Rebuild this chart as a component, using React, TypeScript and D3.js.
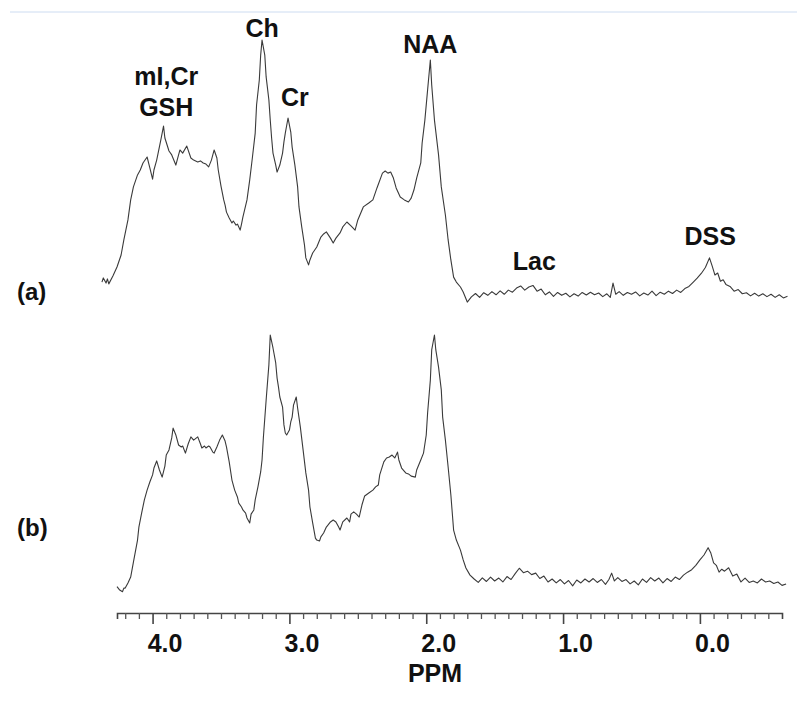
import { useEffect, useRef } from "react";
import * as d3 from "d3";

// spectrum (a): [ppm, relative intensity]
const specA: [number, number][] = [
  [4.37, 6.9], [4.36, 8.5], [4.34, 6.5], [4.33, 8.1], [4.32, 6.2], [4.29, 9.2], [4.26, 12.7],
  [4.23, 17.3], [4.21, 23.1], [4.18, 30.8], [4.16, 38.5], [4.14, 43.5], [4.11, 48.1], [4.09, 50],
  [4.07, 52.7], [4.04, 55], [4.02, 50.8], [4.0, 46.5], [3.99, 50], [3.97, 53.8], [3.94, 61.5],
  [3.92, 66.9], [3.91, 62.3], [3.88, 57.3], [3.86, 55.8], [3.83, 51.9], [3.81, 55.8], [3.8, 57.7],
  [3.78, 56.5], [3.75, 59.2], [3.72, 54.6], [3.7, 53.8], [3.67, 53.1], [3.65, 53.5], [3.63, 52.7],
  [3.61, 52.3], [3.59, 51.2], [3.57, 53.8], [3.55, 57.7], [3.53, 54.6], [3.52, 50], [3.5, 43.8],
  [3.48, 38.5], [3.47, 36.5], [3.46, 33.8], [3.44, 31.5], [3.42, 29.6], [3.41, 30.4], [3.39, 28.8],
  [3.38, 29.2], [3.36, 26.9], [3.35, 29.2], [3.34, 31.9], [3.31, 38.5], [3.29, 46.2], [3.27, 55],
  [3.25, 64.2], [3.24, 75], [3.22, 84.6], [3.21, 94.2], [3.2, 100], [3.18, 94.2], [3.17, 85.8],
  [3.15, 76.9], [3.14, 69.2], [3.13, 62.3], [3.12, 56.5], [3.1, 51.9], [3.09, 49.2], [3.07, 51.9],
  [3.05, 56.5], [3.04, 60.8], [3.03, 64.2], [3.01, 70], [2.99, 64.6], [2.98, 58.8], [2.96, 51.9],
  [2.94, 43.5], [2.93, 35.8], [2.91, 28.1], [2.89, 21.2], [2.88, 16.2], [2.86, 13.5], [2.85, 15.4],
  [2.83, 18.1], [2.8, 20.4], [2.77, 24.2], [2.75, 25.4], [2.73, 26.2], [2.7, 23.8], [2.68, 21.9],
  [2.66, 23.8], [2.63, 25.8], [2.61, 28.1], [2.58, 30], [2.55, 28.5], [2.52, 26.9], [2.5, 30.8],
  [2.46, 35.8], [2.42, 37.3], [2.39, 38.5], [2.36, 43.1], [2.32, 48.8], [2.3, 49.6], [2.28, 48.8],
  [2.26, 49.2], [2.24, 46.9], [2.22, 43.1], [2.19, 39.6], [2.16, 38.5], [2.13, 37.7], [2.11, 39.2],
  [2.09, 42.3], [2.07, 46.9], [2.04, 52.7], [2.03, 60.4], [2.01, 69.2], [1.99, 80.8], [1.97, 92.3],
  [1.96, 82.7], [1.94, 69.2], [1.91, 55.8], [1.89, 43.5], [1.86, 32.7], [1.84, 23.1], [1.82, 15.4],
  [1.8, 8.8], [1.78, 6.9], [1.75, 5], [1.73, 3.1], [1.7, -0.8],
  [1.67, 1.2], [1.64, 2.5], [1.61, 1.0], [1.58, 2.8], [1.55, 1.8], [1.52, 3.2], [1.49, 2.0],
  [1.46, 3.5], [1.43, 2.2], [1.4, 3.8], [1.37, 3.0], [1.34, 4.6], [1.31, 5.4], [1.28, 3.8],
  [1.25, 5.0], [1.22, 5.6], [1.19, 3.4], [1.16, 4.2], [1.13, 2.0], [1.1, 3.1], [1.07, 1.4],
  [1.04, 2.9], [1.01, 1.8], [0.98, 2.6], [0.95, 1.2], [0.92, 2.4], [0.89, 1.5], [0.86, 2.9],
  [0.83, 1.9], [0.8, 3.0], [0.77, 2.0], [0.74, 2.7], [0.71, 1.3], [0.68, 2.4], [0.655, 1.0],
  [0.635, 6.5], [0.615, 2.2], [0.59, 3.2], [0.56, 1.8], [0.53, 2.9], [0.5, 2.2], [0.47, 3.1],
  [0.44, 1.6], [0.41, 2.7], [0.38, 1.9], [0.35, 3.4], [0.32, 1.7], [0.29, 3.0], [0.26, 2.2],
  [0.23, 3.4], [0.2, 2.5], [0.17, 3.8], [0.14, 2.9], [0.11, 4.4], [0.08, 5.2], [0.05, 6.8],
  [0.02, 8.4], [-0.01, 10.2], [-0.04, 12.5], [-0.07, 16.2], [-0.09, 13.0], [-0.11, 9.6],
  [-0.13, 10.4], [-0.15, 7.2], [-0.17, 7.8], [-0.19, 6.0], [-0.22, 5.2], [-0.25, 3.4], [-0.28, 4.0],
  [-0.31, 2.4], [-0.34, 2.8], [-0.37, 1.6], [-0.4, 2.6], [-0.43, 1.5], [-0.46, 2.4], [-0.49, 1.3],
  [-0.52, 2.2], [-0.55, 1.0], [-0.58, 2.0], [-0.61, 0.8], [-0.64, 1.4],
];

// spectrum (b): [ppm, relative intensity]
const specB: [number, number][] = [
  [4.26, -2.7], [4.24, -4.1], [4.22, -4.8], [4.21, -3.3], [4.2, -3.3], [4.18, -1.2], [4.16, 1.2],
  [4.14, 7.3], [4.11, 16.3], [4.1, 21.6], [4.08, 27.3], [4.06, 32.7], [4.04, 36.7], [4.02, 40],
  [4.0, 42.9], [3.99, 45.7], [3.97, 48.6], [3.95, 44.9], [3.93, 42], [3.91, 46.5], [3.9, 51],
  [3.88, 53.1], [3.86, 58], [3.85, 62], [3.83, 59.2], [3.81, 55.1], [3.79, 54.3], [3.78, 54.7],
  [3.76, 51.8], [3.74, 55.5], [3.72, 58.4], [3.7, 57.1], [3.67, 58.4], [3.65, 55.5], [3.64, 53.9],
  [3.62, 54.7], [3.61, 53.9], [3.59, 54.7], [3.58, 54.3], [3.56, 52.2], [3.55, 51.8], [3.53, 54.3],
  [3.51, 57.1], [3.49, 59.2], [3.47, 56.7], [3.46, 54.3], [3.44, 48.2], [3.42, 40.8], [3.4, 36.7],
  [3.38, 33.9], [3.37, 31.4], [3.35, 29.8], [3.34, 28.6], [3.32, 27.3], [3.31, 25.3], [3.29, 23.3],
  [3.28, 26.9], [3.26, 28.6], [3.25, 32.7], [3.23, 38], [3.21, 44.1], [3.2, 49], [3.19, 58.4],
  [3.17, 73.5], [3.15, 87.8], [3.14, 100], [3.12, 94.7], [3.1, 88.6], [3.09, 82.4], [3.08, 78.8],
  [3.07, 74.7], [3.05, 70.6], [3.04, 63.3], [3.03, 60], [3.02, 59.2], [3.0, 61.2], [2.99, 64.5],
  [2.98, 66.5], [2.97, 71.4], [2.95, 74.7], [2.94, 70.2], [2.92, 62.4], [2.9, 53.1], [2.88, 43.7],
  [2.86, 36.7], [2.85, 29.8], [2.83, 23.3], [2.81, 17.1], [2.8, 16.3], [2.78, 15.9], [2.77, 17.6],
  [2.75, 19.2], [2.73, 21.6], [2.7, 23.7], [2.68, 24.5], [2.66, 23.7], [2.64, 21.6], [2.63, 20.4],
  [2.61, 23.7], [2.58, 25.3], [2.56, 23.7], [2.55, 26.9], [2.53, 27.8], [2.51, 26.9], [2.49, 25.7],
  [2.47, 30.6], [2.45, 34.3], [2.42, 35.5], [2.39, 36.7], [2.37, 38], [2.35, 38.8], [2.34, 42.9],
  [2.31, 48.2], [2.29, 49.8], [2.27, 50.2], [2.25, 51], [2.23, 49.8], [2.21, 52.2], [2.2, 49],
  [2.18, 45.7], [2.15, 43.7], [2.13, 43.3], [2.11, 42.4], [2.08, 42], [2.07, 44.9], [2.04, 49],
  [2.02, 51.8], [2.0, 59.2], [1.99, 68.2], [1.97, 81.6], [1.96, 93.9], [1.94, 100], [1.93, 93.9],
  [1.91, 86.9], [1.89, 77.6], [1.88, 66.5], [1.86, 57.1], [1.84, 46.1], [1.82, 34.7], [1.8, 20.4],
  [1.78, 16.3], [1.75, 12.2], [1.73, 8.2], [1.71, 4.9], [1.68, 2],
  [1.65, 0.4], [1.62, -1.0], [1.59, 0.9], [1.56, -0.6], [1.53, 1.2], [1.5, -0.4], [1.47, 0.8],
  [1.44, -0.8], [1.41, 1.4], [1.38, 0.2], [1.35, 2.6], [1.32, 4.8], [1.29, 3.0], [1.26, 3.6],
  [1.23, 2.2], [1.2, 2.8], [1.17, 0.6], [1.14, 1.6], [1.11, -0.8], [1.08, 0.4], [1.05, -1.2],
  [1.02, 0.2], [0.99, -1.6], [0.96, -0.2], [0.93, -2.4], [0.9, 0.0], [0.87, -1.2], [0.84, 0.4],
  [0.81, -0.8], [0.78, 0.6], [0.75, -1.0], [0.72, 0.2], [0.69, -1.8], [0.665, 0.2], [0.645, 2.8],
  [0.625, -0.4], [0.6, 1.0], [0.57, -0.6], [0.54, 0.2], [0.51, -1.6], [0.48, -0.4], [0.45, -2.0],
  [0.42, 0.4], [0.39, -1.0], [0.36, 1.0], [0.33, -0.4], [0.3, 0.8], [0.27, -1.2], [0.24, 0.6],
  [0.21, -0.6], [0.18, 1.2], [0.15, 0.2], [0.12, 2.0], [0.09, 3.2], [0.06, 4.2], [0.03, 6.0],
  [0.0, 8.2], [-0.03, 10.2], [-0.06, 13.2], [-0.08, 11.0], [-0.1, 7.0], [-0.12, 6.0], [-0.14, 3.2],
  [-0.16, 4.4], [-0.18, 3.6], [-0.21, 5.0], [-0.24, 1.6], [-0.27, 2.4], [-0.3, -0.8], [-0.33, 0.8],
  [-0.36, -1.0], [-0.39, -0.4], [-0.42, -1.2], [-0.45, 0.4], [-0.48, -0.8], [-0.51, -0.4],
  [-0.54, -1.4], [-0.57, -0.8], [-0.6, -2.2], [-0.63, -1.6],
];

const majorTicks = [4, 3, 2, 1, 0];
const minorTicks = [4.2, 4.1, 3.9, 3.8, 3.7, 3.6, 3.5, 3.4, 3.3, 3.2, 3.1, 2.9, 2.8, 2.7, 2.6, 2.5,
  2.4, 2.3, 2.2, 2.1, 1.9, 1.8, 1.7, 1.6, 1.5, 1.4, 1.3, 1.2, 1.1, 0.9, 0.8, 0.7, 0.6, 0.5, 0.4,
  0.3, 0.2, 0.1, -0.1, -0.2, -0.3, -0.4, -0.5];

// peak annotations: [label, ppm, baseline height in units of spectrum (a)]
const peakLabels: [string, number, number][] = [
  ["Ch", 3.2, 101],
  ["Cr", 2.96, 74.6],
  ["NAA", 1.97, 95],
  ["mI,Cr", 3.9, 82.7],
  ["GSH", 3.9, 70.8],
  ["Lac", 1.21, 11.5],
  ["DSS", -0.075, 21.2],
];

const FONT = "'Liberation Sans', Arial, sans-serif";

export default function App() {
  const ref = useRef<SVGSVGElement>(null);

  useEffect(() => {
    document.body.style.margin = "0";
    const svg = d3.select(ref.current);
    svg.selectAll("*").remove();

    const x = d3.scaleLinear().domain([4.26, -0.6]).range([117, 782]);
    const yA = d3.scaleLinear().domain([0, 100]).range([300, 40]);
    const yB = d3.scaleLinear().domain([0, 100]).range([580, 335]);

    // faint rule at the top
    svg.append("line")
      .attr("x1", 10).attr("x2", 797).attr("y1", 12).attr("y2", 12)
      .attr("stroke", "#cddcf1").attr("stroke-width", 1);

    const drawSpec = (data: [number, number][], y: d3.ScaleLinear<number, number>) => {
      const line = d3.line<[number, number]>().x((d) => x(d[0])).y((d) => y(d[1]));
      svg.append("path")
        .datum(data)
        .attr("d", line)
        .attr("fill", "none")
        .attr("stroke", "#3a3a3a")
        .attr("stroke-width", 1.1)
        .attr("stroke-linejoin", "round");
    };
    drawSpec(specA, yA);
    drawSpec(specB, yB);

    // axis
    const axisY = 613;
    const gMinor = svg.append("g")
      .attr("transform", `translate(0,${axisY})`)
      .call(d3.axisBottom(x).tickValues(minorTicks).tickSize(6).tickFormat(() => ""));
    gMinor.select(".domain").attr("stroke", "#444").attr("stroke-width", 1.6);
    gMinor.selectAll(".tick line").attr("stroke", "#555").attr("stroke-width", 1.3);

    const gMajor = svg.append("g")
      .attr("transform", `translate(0,${axisY})`)
      .call(d3.axisBottom(x).tickValues(majorTicks).tickSize(11).tickFormat(d3.format(".1f")));
    gMajor.select(".domain").remove();
    gMajor.selectAll(".tick line").attr("stroke", "#444").attr("stroke-width", 1.6);
    gMajor.selectAll(".tick text")
      .attr("y", 39)
      .attr("dy", 0)
      .attr("dx", 12)
      .attr("fill", "#111")
      .style("font-family", FONT)
      .style("font-weight", "bold")
      .style("font-size", "25px");

    svg.append("text")
      .attr("x", 435).attr("y", 682)
      .attr("text-anchor", "middle")
      .attr("fill", "#111")
      .style("font-family", FONT).style("font-weight", "bold").style("font-size", "25px")
      .text("PPM");

    // peak labels
    svg.append("g")
      .selectAll("text")
      .data(peakLabels)
      .join("text")
      .attr("x", (d) => x(d[1]))
      .attr("y", (d) => yA(d[2]))
      .attr("text-anchor", "middle")
      .attr("fill", "#111")
      .style("font-family", FONT).style("font-weight", "bold").style("font-size", "25px")
      .text((d) => d[0]);

    // trace labels
    [["(a)", 300], ["(b)", 536]].forEach(([t, yy]) => {
      svg.append("text")
        .attr("x", 17).attr("y", yy as number)
        .attr("fill", "#111")
        .style("font-family", FONT).style("font-weight", "bold").style("font-size", "24px")
        .text(t as string);
    });
  }, []);

  return <svg ref={ref} width={800} height={703} style={{ display: "block" }}></svg>;
}
